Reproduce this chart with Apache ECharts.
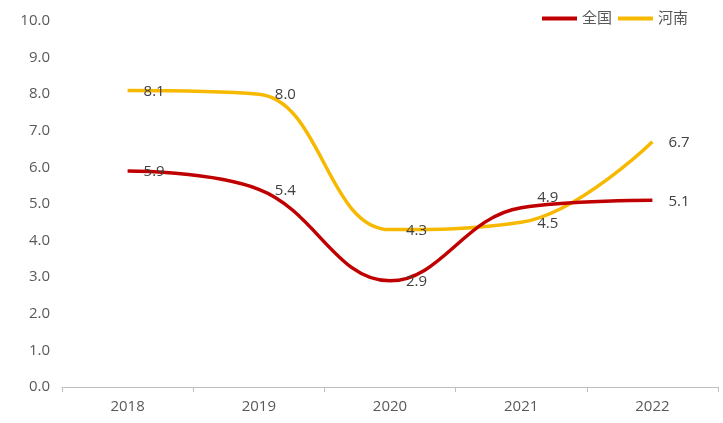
<!DOCTYPE html>
<html><head><meta charset="utf-8">
<script src="https://cdn.jsdelivr.net/npm/echarts@6/dist/echarts.min.js"></script>
<style>html,body{margin:0;padding:0;background:#fff}#c{width:723px;height:423px}</style>
</head><body><div id="c"></div>
<script>
var years = ['2018','2019','2020','2021','2022'];
var national = [5.9, 5.4, 2.9, 4.9, 5.1];
var henan = [8.1, 8.0, 4.3, 4.5, 6.7];
var yTicks = {min: 0, max: 10, interval: 1};
var font = '"Open Sans", "Noto Sans CJK SC", sans-serif';
var chart = echarts.init(document.getElementById('c'));
function lbl(){return {show:true, position:'right', distance:16, color:'#404040', fontSize:15, fontFamily:font, offset:[0,1], formatter:function(p){return p.value.toFixed(1);}};}
// national 2021 label is lifted in the original to avoid overlap
var nationalData = national.map(function(v, i){
  return i === 3 ? {value:v, label:{offset:[0,-10]}} : v;
});
chart.setOption({
  animation:false,
  textStyle:{fontFamily:font},
  legend:{top:6, right:30, icon:'rect', itemWidth:35, itemHeight:4, itemGap:6,
    textStyle:{color:'#595959', fontSize:15, fontFamily:font, padding:[0,0,0,0]},
    data:['全国','河南']},
  grid:{left:62, right:5, top:21, bottom:36},
  xAxis:{type:'category', data:years, boundaryGap:true,
    axisLine:{lineStyle:{color:'#bfbfbf', width:1}},
    axisTick:{show:true, length:5, lineStyle:{color:'#bfbfbf'}},
    axisLabel:{color:'#595959', fontSize:15, margin:12}},
  yAxis:{type:'value', min:yTicks.min, max:yTicks.max, interval:yTicks.interval,
    axisLine:{show:false}, axisTick:{show:false}, splitLine:{show:false},
    axisLabel:{color:'#595959', fontSize:15, margin:12, formatter:function(v){return v.toFixed(1);}}},
  series:[
    {name:'全国', type:'line', data:nationalData, smooth:0.4, symbol:'circle', symbolSize:0.01, showSymbol:true,
      lineStyle:{color:'#C00000', width:3.5}, itemStyle:{color:'#C00000'}, label:lbl(), z:3},
    {name:'河南', type:'line', data:henan, smooth:0.4, symbol:'circle', symbolSize:0.01, showSymbol:true,
      lineStyle:{color:'#F7B900', width:3.5}, itemStyle:{color:'#F7B900'}, label:lbl(), z:2}
  ]
});
</script></body></html>
